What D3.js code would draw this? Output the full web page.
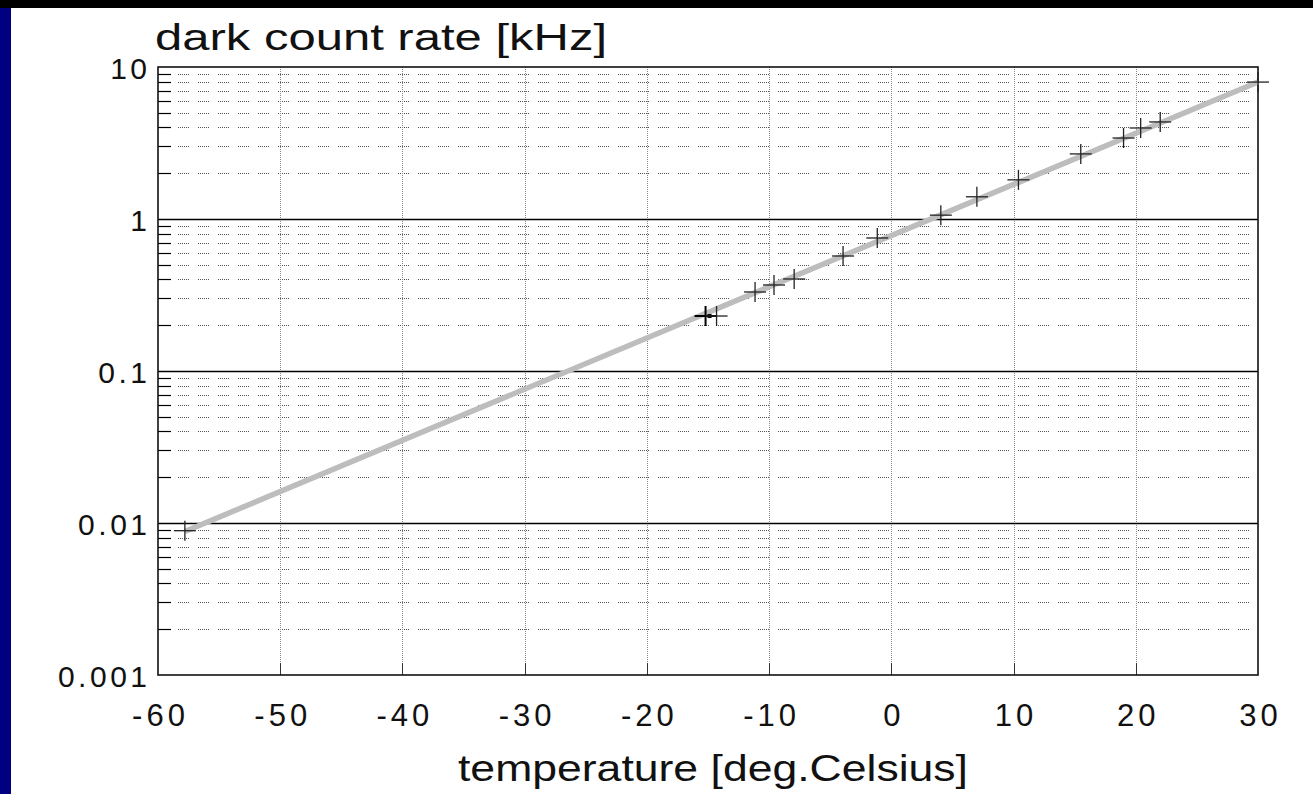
<!DOCTYPE html>
<html><head><meta charset="utf-8">
<script src="https://cdn.jsdelivr.net/npm/d3@7"></script>
<style>
html,body{margin:0;padding:0;background:#fff;}
svg{display:block;}
text{font-family:"Liberation Sans",Arial,sans-serif;fill:#111;}
</style></head>
<body>
<svg id="c" width="1313" height="794"></svg>
<script>
// ---- data ----
const temperatures = [-57.8, -15.2, -14.3, -11.15, -9.6, -7.95, -3.95, -1.15, 4.05, 7.0, 10.4, 15.5, 19.0, 20.4, 22.0, 30.0];
const darkRates    = [0.0089, 0.23, 0.23, 0.331, 0.368, 0.403, 0.571, 0.75, 1.06, 1.40, 1.81, 2.68, 3.41, 3.97, 4.35, 7.96];
const fitTemps = [-57.8, 30];
const fitRates = [0.0088, 7.96];
const xTicks = [-60, -50, -40, -30, -20, -10, 0, 10, 20, 30];
const yTicks = [0.001, 0.01, 0.1, 1, 10];
const yTickLabels = ["0.001", "0.01", "0.1", "1", "10"];
const yTitle = "dark count rate [kHz]";
const xTitle = "temperature [deg.Celsius]";

const svg = d3.select("#c");
const L = 158, R = 1258, T = 67, B = 675;
const x = d3.scaleLinear().domain([-60, 30]).range([L, R]);
const y = d3.scaleLog().domain([0.001, 10]).range([B, T]);

// frame decorations
svg.append("rect").attr("x",0).attr("y",0).attr("width",1313).attr("height",794).attr("fill","#fff");
svg.append("rect").attr("x",0).attr("y",0).attr("width",1313).attr("height",8).attr("fill","#000");
svg.append("rect").attr("x",0).attr("y",8).attr("width",11).attr("height",786).attr("fill","#000080");

// minor horizontal grid
const minor = [];
for (let e = -3; e < 1; e++) for (let m = 2; m <= 9; m++) minor.push(m * Math.pow(10, e));
const g = svg.append("g");
g.selectAll("line.minor").data(minor).join("line")
  .attr("x1", L).attr("x2", R).attr("y1", d => Math.round(y(d)) + 0.5).attr("y2", d => Math.round(y(d)) + 0.5)
  .attr("stroke", "#555").attr("stroke-width", 1)
  .attr("stroke-dasharray", "1,1,1,1,1,1,1,1,1,1,1,9");
g.selectAll("line.minortick").data(minor).join("line")
  .attr("x1", L).attr("x2", L + 13).attr("y1", d => Math.round(y(d)) + 0.5).attr("y2", d => Math.round(y(d)) + 0.5)
  .attr("stroke", "#000").attr("stroke-width", 1.2);

// vertical grid
g.selectAll("line.vg").data(xTicks.slice(1, -1)).join("line")
  .attr("x1", d => Math.round(x(d)) + 0.5).attr("x2", d => Math.round(x(d)) + 0.5)
  .attr("y1", T).attr("y2", B)
  .attr("stroke", "#888").attr("stroke-width", 1).attr("stroke-dasharray", "1,1");
g.selectAll("line.vt").data(xTicks.slice(1, -1)).join("line")
  .attr("x1", d => Math.round(x(d)) + 0.5).attr("x2", d => Math.round(x(d)) + 0.5)
  .attr("y1", B - 12).attr("y2", B)
  .attr("stroke", "#333").attr("stroke-width", 1);

// major decade lines
g.selectAll("line.major").data(yTicks.slice(1, -1)).join("line")
  .attr("x1", L).attr("x2", R).attr("y1", d => Math.round(y(d)) + 0.5).attr("y2", d => Math.round(y(d)) + 0.5)
  .attr("stroke", "#000").attr("stroke-width", 1.4);

// frame
svg.append("rect").attr("x", L).attr("y", T).attr("width", R - L).attr("height", B - T)
  .attr("fill", "none").attr("stroke", "#111").attr("stroke-width", 1.6);

// fit line
const line = d3.line().x(d => x(d[0])).y(d => y(d[1]));
svg.append("path").datum(d3.zip(fitTemps, fitRates)).attr("d", line)
  .attr("fill", "none").attr("stroke", "#bdbdbd").attr("stroke-width", 5.5);

// data crosses
const pts = d3.zip(temperatures, darkRates);
const cg = svg.append("g");
pts.forEach((p, i) => {
  const cx = x(p[0]), cy = y(p[1]);
  const w = i === 1 ? 2 : 1.3;
  const col = i === 1 ? "#000" : "#222";
  cg.append("line").attr("x1", cx - 11).attr("x2", cx + 11).attr("y1", cy).attr("y2", cy).attr("stroke", col).attr("stroke-width", w);
  cg.append("line").attr("x1", cx).attr("x2", cx).attr("y1", cy - 10).attr("y2", cy + 10).attr("stroke", col).attr("stroke-width", w);
  if (i === 1) cg.append("rect").attr("x", cx + 2).attr("y", cy - 2).attr("width", 4).attr("height", 4).attr("fill", "#000");
});

// tick labels
const ls = 3.5;
svg.selectAll("text.yl").data(yTicks).join("text")
  .attr("x", 147 + ls).attr("y", d => y(d) + 12).attr("text-anchor", "end")
  .attr("font-size", 30).style("letter-spacing", ls + "px")
  .text((d, i) => yTickLabels[i]);
svg.selectAll("text.xl").data(xTicks).join("text")
  .attr("x", d => x(d) + 2.5).attr("y", 726).attr("text-anchor", "middle")
  .attr("font-size", 31).style("letter-spacing", "4px")
  .text(d => d);

// titles
svg.append("text").attr("x", 155).attr("y", 50).attr("font-size", 37)
  .attr("textLength", 452).attr("lengthAdjust", "spacingAndGlyphs").text(yTitle);
svg.append("text").attr("x", 458).attr("y", 781).attr("font-size", 37)
  .attr("textLength", 510).attr("lengthAdjust", "spacingAndGlyphs").text(xTitle);
</script>
</body></html>
